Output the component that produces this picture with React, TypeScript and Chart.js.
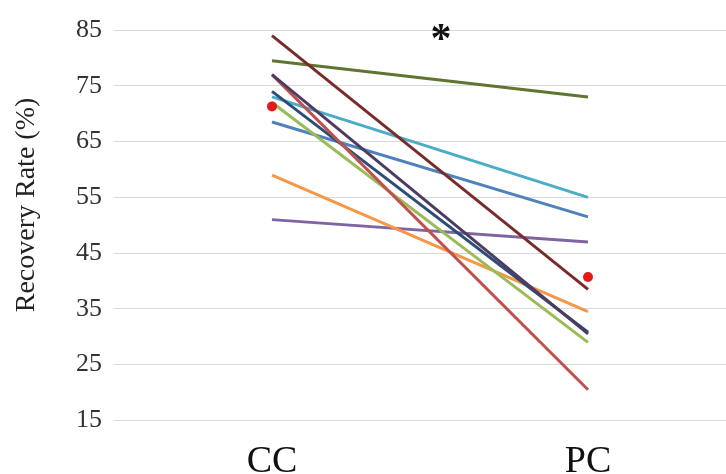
import React, { useEffect, useRef } from "react";
import { Chart, registerables } from "chart.js";

Chart.register(...registerables);

const categories = ["CC", "PC"];
const seriesNames = ["S1", "S2", "S3", "S4", "S5", "S6", "S7", "S8", "S9", "S10"];
const seriesColors = ["#772C2A", "#5F7530", "#4D3B62", "#C0504D", "#2C4D75", "#4BACC6", "#9BBB59", "#4F81BD", "#F79646", "#8064A2"];
const seriesCC = [84, 79.5, 77, 77, 74, 73, 72, 68.5, 59, 51];
const seriesPC = [38.5, 73, 30.5, 20.5, 30.8, 55, 29, 51.5, 34.5, 47];
const meanValues = [71.3, 40.7];
const yTicks = [15, 25, 35, 45, 55, 65, 75, 85];
const yTitle = "Recovery Rate (%)";
const sigMark = "*";

const SERIF = "'Liberation Serif', 'Times New Roman', serif";

const overlayPlugin = {
  id: "overlay",
  afterDraw(chart: any) {
    const ctx = chart.ctx;
    const xs = chart.scales.x;
    const ys = chart.scales.y;
    const x0 = xs.getPixelForValue(0);
    const x1 = xs.getPixelForValue(1);
    ctx.save();
    ctx.fillStyle = "#111";
    ctx.font = `bold 42px ${SERIF}`;
    ctx.textAlign = "center";
    ctx.textBaseline = "middle";
    ctx.fillText(sigMark, x0 + 0.535 * (x1 - x0), ys.getPixelForValue(85) + 11);
    ctx.restore();

    ctx.save();
    ctx.fillStyle = "#222";
    ctx.font = `28px ${SERIF}`;
    ctx.textAlign = "center";
    ctx.textBaseline = "middle";
    ctx.translate(27, 205);
    ctx.rotate(-Math.PI / 2);
    ctx.fillText(yTitle, 0, 0);
    ctx.restore();
  },
};

export default function App() {
  const ref = useRef<HTMLCanvasElement>(null);
  useEffect(() => {
    document.body.style.overflow = "hidden";
    const datasets: any[] = [
      {
        label: "mean",
        data: meanValues,
        showLine: false,
        pointRadius: 5,
        pointBackgroundColor: "#E31A1C",
        pointBorderWidth: 0,
        borderColor: "#E31A1C",
      },
    ];
    seriesNames.forEach((n, i) => {
      datasets.push({
        label: n,
        data: [seriesCC[i], seriesPC[i]],
        borderColor: seriesColors[i],
        borderWidth: 3,
        pointRadius: 0,
        fill: false,
      });
    });
    const chart = new Chart(ref.current!, {
      type: "line",
      data: { labels: categories, datasets },
      options: {
        animation: false,
        responsive: false,
        layout: { padding: { left: 64, right: 20, top: 30, bottom: 6 } },
        plugins: { legend: { display: false }, tooltip: { enabled: false } },
        scales: {
          x: {
            offset: true,
            grid: { display: false, drawTicks: false },
            border: { display: false },
            ticks: { color: "#111", font: { family: SERIF, size: 38, lineHeight: 1.2 }, padding: 19 },
          },
          y: {
            min: 15,
            max: 85,
            afterBuildTicks: (s: any) => {
              s.ticks = yTicks.map((v) => ({ value: v }));
            },
            grid: { color: "#D9D9D9", lineWidth: 1, drawTicks: false },
            border: { display: false },
            ticks: { color: "#333", font: { family: SERIF, size: 26 }, padding: 12 },
          },
        },
      },
      plugins: [overlayPlugin],
    });
    return () => chart.destroy();
  }, []);
  return (
    <div style={{ position: "fixed", left: 0, top: 0, width: 726, height: 474, overflow: "hidden", background: "#fff" }}>
      <canvas ref={ref} width={766} height={510} />
    </div>
  );
}
